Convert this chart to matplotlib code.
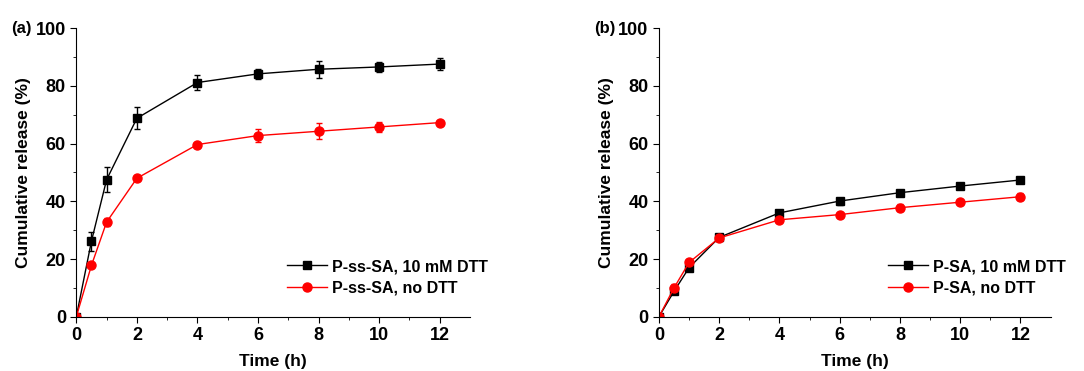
import matplotlib.pyplot as plt

plt.rcParams['font.family'] = ['Liberation Sans', 'DejaVu Sans']
plt.rcParams['font.weight'] = 'bold'

time_h = [0, 0.5, 1, 2, 4, 6, 8, 10, 12]

a_dtt = [0, 26.2, 47.5, 68.8, 81.2, 84.2, 85.8, 86.6, 87.6]
a_dtt_err = [0, 3.3, 4.3, 3.8, 2.5, 1.8, 3.0, 1.8, 2.0]
a_no = [0, 17.8, 32.8, 48.0, 59.7, 62.8, 64.3, 65.8, 67.3]
a_no_err = [0, 0.5, 1.4, 0.5, 0.5, 2.3, 2.7, 1.8, 0.6]

b_dtt = [0, 8.8, 17.0, 27.5, 36.0, 40.1, 43.0, 45.3, 47.4]
b_dtt_err = [0, 0.8, 0.8, 0.8, 0.6, 1.2, 0.8, 0.8, 1.2]
b_no = [0, 10.0, 18.8, 27.3, 33.6, 35.4, 37.8, 39.7, 41.6]
b_no_err = [0, 1.2, 1.0, 0.8, 0.6, 0.6, 1.2, 0.6, 1.2]

fig = plt.figure(figsize=(10.84, 3.71), dpi=100)
ax1 = fig.add_axes([0.0704, 0.1464, 0.3632, 0.7773])
ax2 = fig.add_axes([0.6079, 0.1464, 0.3613, 0.7773])


def panel(ax, y1, e1, y2, e2, lab1, lab2, tag, legx):
    c1 = ax.errorbar(time_h, y1, yerr=e1, color='black', marker='s', markersize=6,
                     lw=1, capsize=2.5, elinewidth=1)
    c2 = ax.errorbar(time_h, y2, yerr=e2, color='red', marker='o', markersize=6.5,
                     lw=1, capsize=2.5, elinewidth=1)
    ax.set_xlim(0, 13)
    ax.set_ylim(0, 100)
    ax.set_xticks([0, 2, 4, 6, 8, 10, 12])
    ax.set_xticks([1, 3, 5, 7, 9, 11], minor=True)
    ax.set_yticks([0, 20, 40, 60, 80, 100])
    ax.set_yticks([10, 30, 50, 70, 90], minor=True)
    for pos in ['right', 'top']:
        ax.spines[pos].set_visible(False)
    ax.tick_params(which='major', direction='out', length=4.5, labelsize=13, pad=3)
    ax.tick_params(which='minor', direction='out', length=2.5)
    ax.set_xlabel('Time (h)', fontsize=12.5, fontweight='bold', labelpad=7)
    ax.set_ylabel('Cumulative release (%)', fontsize=12.5, fontweight='bold', labelpad=3)
    ax.legend([c1.lines[0], c2.lines[0]], [lab1, lab2], loc='upper left',
              bbox_to_anchor=(legx, 0.20), borderaxespad=0, borderpad=0,
              frameon=False, handlelength=2.5, handletextpad=0.3,
              labelspacing=0.4, prop={'weight': 'bold', 'size': 11.5})
    ax.text(-0.165, 1.0, tag, transform=ax.transAxes, fontsize=12,
            fontweight='bold', va='center', ha='left')


panel(ax1, a_dtt, a_dtt_err, a_no, a_no_err,
      'P-ss-SA, 10 mM DTT', 'P-ss-SA, no DTT', '(a)', 0.535)
panel(ax2, b_dtt, b_dtt_err, b_no, b_no_err,
      'P-SA, 10 mM DTT', 'P-SA, no DTT', '(b)', 0.585)

fig.savefig('out.png', dpi=100)
